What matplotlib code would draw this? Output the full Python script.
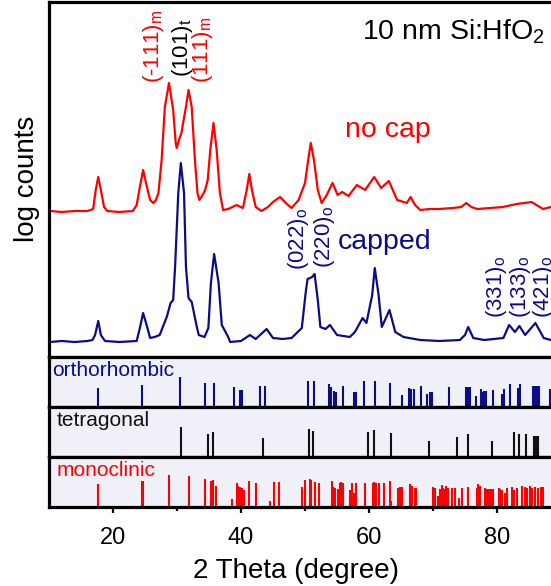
import matplotlib
matplotlib.use('Agg')
import matplotlib.pyplot as plt

plt.rcParams['font.family'] = ['Liberation Sans', 'DejaVu Sans']
plt.rcParams['mathtext.fontset'] = 'custom'
plt.rcParams['mathtext.rm'] = 'Liberation Sans'
plt.rcParams['mathtext.it'] = 'Liberation Sans'
plt.rcParams['mathtext.default'] = 'regular'

# ---------------- data ----------------
# "no cap" pattern (log counts, arbitrary offset units)
nocap_x = [10.2, 12.0, 14.0, 16.0, 16.9, 17.3, 17.7, 18.1, 18.6, 19.1, 21.0, 23.1, 23.7, 24.2,
           24.7, 25.3, 25.8, 26.3, 26.7, 27.1, 27.6, 28.1, 28.75, 29.4, 29.8, 29.95, 30.3, 30.7,
           30.9, 31.4, 31.8, 32.3, 32.8, 33.2, 33.5, 34.0, 34.4, 34.8, 35.2, 35.7, 36.2, 36.7,
           37.2, 38.0, 39.3, 40.3, 40.9, 41.3, 41.7, 42.3, 43.2, 44.2, 45.0, 46.1, 47.0, 47.9,
           49.0, 50.0, 50.5, 50.9, 51.4, 52.0, 52.6, 53.4, 54.3, 55.1, 55.8, 56.8, 58.1, 59.4,
           60.8, 61.9, 63.1, 64.4, 65.9, 66.5, 67.2, 68.0, 69.5, 71.0, 73.1, 74.4, 75.2, 76.0,
           76.9, 79.0, 80.9, 83.1, 85.4, 87.2, 88.4, 90.0]
nocap_y = [146, 145, 146, 146, 148, 167, 180, 167, 150, 146, 145, 146, 152, 170,
           187, 170, 157, 154, 157, 164, 197, 250, 274, 247, 214, 209, 217, 224,
           232, 250, 267, 250, 197, 164, 157, 162, 167, 177, 207, 234, 207, 164,
           147, 148, 152, 149, 167, 183, 167, 150, 146, 150, 155, 160, 154, 149,
           157, 174, 197, 214, 197, 167, 154, 162, 174, 162, 165, 161, 172, 167,
           180, 169, 176, 157, 154, 160, 152, 147, 148, 148, 149, 150, 154, 150,
           148, 149, 150, 153, 155, 148, 150, 149]

# "capped" pattern
capped_x = [10.2, 12.0, 14.0, 16.0, 16.8, 17.2, 17.7, 18.1, 18.75, 21.0, 23.7, 24.2, 24.7, 25.3,
            25.8, 26.5, 27.3, 27.9, 28.4, 29.0, 29.4, 29.7, 30.2, 30.6, 31.1, 31.4, 31.8, 32.3,
            33.1, 33.4, 34.3, 34.9, 35.3, 35.8, 36.5, 37.0, 38.0, 38.3, 40.0, 41.4, 42.3, 44.0,
            45.0, 46.5, 47.9, 49.5, 50.1, 50.4, 50.8, 51.1, 51.5, 52.0, 52.4, 53.2, 53.9, 55.0,
            57.0, 57.8, 59.0, 59.6, 60.5, 60.9, 61.5, 62.0, 63.2, 64.1, 65.4, 68.0, 71.0, 74.2,
            75.0, 75.5, 76.3, 78.0, 81.0, 81.9, 82.8, 83.5, 84.4, 86.0, 87.3, 88.4, 90.0]
capped_y = [15, 16, 15, 16, 17, 22, 36, 22, 16, 15, 16, 29, 44, 31,
            19, 20, 22, 32, 40, 54, 57, 90, 164, 194, 164, 90, 59, 55,
            30, 22, 20, 29, 74, 103, 74, 32, 20, 15, 16, 22, 18, 28,
            19, 18, 19, 29, 64, 78, 79, 80, 83, 57, 30, 28, 32, 22,
            20, 25, 39, 34, 62, 89, 62, 30, 47, 25, 20, 17, 16, 17,
            22, 30, 19, 17, 19, 32, 25, 31, 22, 34, 19, 17, 16]

# reference patterns: positions (2 theta) and relative intensity
ortho_pos = [17.7, 24.6, 30.5, 34.4, 35.8, 38.9, 39.8, 40.1, 43.0, 43.75, 50.4, 51.4, 53.8, 54.1,
             54.6, 54.8, 56.0, 57.7, 57.9, 59.2, 60.9, 63.3, 65.2, 66.2, 66.5, 67.0, 68.1, 69.1,
             69.5, 69.9, 72.5, 75.2, 75.4, 75.6, 75.8, 76.7, 77.5, 77.7, 78.0, 78.3, 79.4, 80.8,
             81.05, 82.0, 83.3, 83.6, 85.6, 85.8, 86.0, 86.2, 86.5, 88.3]
ortho_int = [18.7, 21.7, 29.3, 23.7, 23.7, 20, 16.7, 16.7, 20.3, 20.3, 26, 26, 22.3, 20,
             16, 15, 21, 14.3, 14.3, 25.7, 26, 24, 11.7, 19, 17.7, 17.7, 20.7, 12.7,
             14.3, 14.3, 19.3, 20, 20, 20, 20, 10.7, 17.3, 15, 16, 16, 16.7, 12.3,
             17.3, 22.3, 19, 22.3, 20.7, 20.7, 20.7, 20.7, 20.7, 17.3]

tetra_pos = [30.6, 34.9, 35.7, 43.4, 50.7, 51.3, 59.9, 60.8, 63.5, 69.4, 73.7, 75.4, 79.2, 82.7,
             83.4, 84.6, 85.8, 86.1, 86.4]
tetra_int = [30, 22.7, 24.3, 18.7, 27.7, 26, 25, 26.7, 23.3, 15.3, 20, 22.7, 15.3, 25,
             22.7, 22.7, 21, 21, 21]

mono_pos = [17.7, 24.5, 24.7, 28.8, 31.8, 34.3, 35.3, 35.6, 36.1, 38.6, 39.4, 39.6, 39.8, 40.1,
            40.4, 41.3, 42.3, 44.6, 45.1, 46.0, 49.5, 50.0, 50.8, 51.0, 51.5, 52.2, 54.2, 54.4,
            54.7, 55.2, 55.5, 55.7, 56.0, 57.0, 57.3, 57.7, 57.9, 59.3, 60.6, 60.8, 61.1, 61.5,
            62.4, 63.3, 63.5, 64.6, 64.8, 65.2, 66.4, 66.7, 67.2, 67.4, 70.0, 70.3, 70.8, 71.1,
            71.4, 71.6, 71.9, 72.1, 72.4, 72.9, 73.4, 74.0, 74.5, 75.4, 76.8, 77.1, 77.3, 78.1,
            78.4, 78.7, 79.0, 79.4, 80.3, 80.5, 80.8, 81.2, 81.6, 82.3, 82.6, 83.1, 83.9, 84.4,
            84.7, 85.2, 85.5, 86.0, 86.4, 86.9, 87.2]
mono_int = [22.7, 26, 26, 31.7, 30.3, 27.7, 26, 26.7, 21, 7.7, 23.7, 21, 19.3, 18.3,
            16.7, 26, 23.3, 6, 24.3, 24.3, 20, 26.7, 27.3, 26.7, 25, 23.3, 25.7, 20,
            19, 17.3, 23.3, 24.3, 23.3, 16.7, 24, 13.3, 24, 23.3, 23.3, 25, 24, 23.3,
            23.3, 25.7, 6, 18.3, 19.3, 20, 22.7, 20.7, 18.3, 18.3, 20, 18.3, 11, 17.7,
            21.7, 19, 17.3, 21, 18.3, 18.3, 19, 8.3, 18.3, 20, 18.3, 22.3, 20.7, 18.3,
            17.7, 17.7, 17.7, 17.7, 19, 17.7, 16.7, 13.3, 18.3, 20, 16.7, 18.3, 20.7, 20,
            18.3, 20.7, 19, 20, 19, 20, 20]

# peak labels: text, 2theta, colour key
red_labels = [r'(-111)$_m$', r'(111)$_m$']
red_label_x = [26.3, 34.06]
black_labels = [r'(101)$_t$']
black_label_x = [30.86]
navy_labels = [r'(022)$_o$', r'(220)$_o$', r'(331)$_o$', r'(133)$_o$', r'(421)$_o$']
navy_label_x = [48.98, 53.05, 79.9, 83.6, 87.3]
navy_label_y = [87, 89, 39, 39, 39]

x_ticks = [20, 40, 60, 80]
x_minor = [30, 50, 70, 90]

# ---------------- figure ----------------
RED = '#ff0000'
NAVY = '#0c0c86'
PANEL_BG = '#f0f1f8'
W, H = 551.0, 586.0
fig = plt.figure(figsize=(W / 100, H / 100), dpi=100)


def pos(top, bottom, left=49.0, right=561.0):
    return [left / W, 1 - bottom / H, (right - left) / W, (bottom - top) / H]


ax0 = fig.add_axes(pos(1.5, 357))
ax1 = fig.add_axes(pos(357, 406.5), sharex=ax0)
ax2 = fig.add_axes(pos(406.5, 456.5), sharex=ax0)
ax3 = fig.add_axes(pos(456.5, 506.5), sharex=ax0)

for ax in (ax0, ax1, ax2, ax3):
    for sp in ax.spines.values():
        sp.set_linewidth(2.3)
    ax.set_yticks([])
    ax.tick_params(axis='x', which='both', bottom=False, labelbottom=False)

ax0.set_xlim(10, 90)
ax0.set_ylim(0, 355.5)

ax0.plot(nocap_x, nocap_y, color=RED, lw=1.6)
ax0.plot(capped_x, capped_y, color=NAVY, lw=1.6)

ax0.text(58.86, 318, r'10 nm Si:HfO$_2$', fontsize=20.5, color='black', ha='left', va='baseline')
ax0.text(56.25, 220, 'no cap', fontsize=20.5, color=RED, ha='left', va='baseline')
ax0.text(55.16, 108, 'capped', fontsize=20.5, color=NAVY, ha='left', va='baseline')

for t, x in zip(red_labels, red_label_x):
    ax0.text(x, 274, t, rotation=90, ha='center', va='bottom', fontsize=16, color=RED)
for t, x in zip(black_labels, black_label_x):
    ax0.text(x, 280, t, rotation=90, ha='center', va='bottom', fontsize=16, color='black')
for t, x, y in zip(navy_labels, navy_label_x, navy_label_y):
    ax0.text(x, y, t, rotation=90, ha='center', va='bottom', fontsize=16, color=NAVY)

panels = [(ax1, ortho_pos, ortho_int, NAVY, 'orthorhombic', 10.5, 49.5),
          (ax2, tetra_pos, tetra_int, '#111111', 'tetragonal', 11.2, 50),
          (ax3, mono_pos, mono_int, RED, 'monoclinic', 11.2, 50)]
for ax, p, h, c, name, tx, top in panels:
    ax.set_facecolor(PANEL_BG)
    ax.set_ylim(0, top)
    ax.vlines(p, 0, h, color=c, lw=1.5)
    ax.text(tx, 30, name, fontsize=15, color=c, ha='left', va='baseline')

ax3.set_xticks(x_ticks)
ax3.set_xticks(x_minor, minor=True)
ax3.tick_params(axis='x', which='both', bottom=True, labelbottom=True, direction='out', width=1.6)
ax3.tick_params(axis='x', which='major', length=4, labelsize=17, pad=11)
ax3.tick_params(axis='x', which='minor', length=2.8)
ax3.set_xlabel('2 Theta (degree)', fontsize=20)
ax3.xaxis.set_label_coords(0.483, -1.03)

fig.text(27 / W, 1 - 179 / H, 'log counts', rotation=90, fontsize=20, ha='center', va='center')

fig.savefig('out.png', dpi=100)
